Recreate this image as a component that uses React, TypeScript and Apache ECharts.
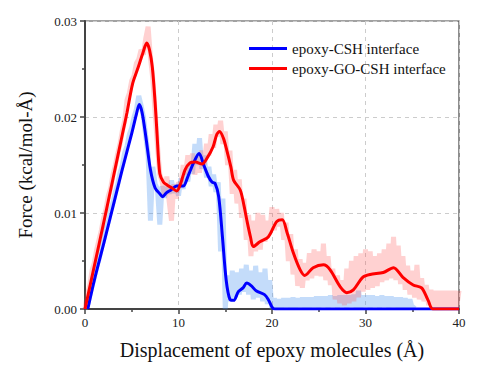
import React, { useEffect, useRef } from "react";
import * as echarts from "echarts";

const FONT = "Liberation Serif";

const seriesNames = ["epoxy-CSH interface", "epoxy-GO-CSH interface"];
const xTicks = [0, 10, 20, 30, 40];
const yTicks = [0, 0.01, 0.02, 0.03];

// raw (light) data sampled every 0.25 Å
const rawStep = 0.25;
const rawBlue = [
  0, 0.0003, 0.0014, 0.0024, 0.0033, 0.0044, 0.0052, 0.0063,
  0.0072, 0.0083, 0.0091, 0.0103, 0.0111, 0.0122, 0.013, 0.0142,
  0.015, 0.0163, 0.017, 0.0182, 0.0189, 0.02, 0.0208, 0.0222,
  0.0212, 0.02, 0.018, 0.016, 0.0092, 0.0148, 0.013, 0.0125,
  0.0088, 0.0128, 0.0116, 0.0127, 0.012, 0.0134, 0.0121, 0.013,
  0.0118, 0.0136, 0.0125, 0.0142, 0.0133, 0.0152, 0.0141, 0.0172,
  0.015, 0.0178, 0.0146, 0.016, 0.0137, 0.0148, 0.0128, 0.014,
  0.0122, 0.0132, 0.006, 0.0115, 0.0, 0.0035, 0.0008, 0.004,
  0.0012, 0.0038, 0.0015, 0.0042, 0.0018, 0.0046, 0.0015, 0.004,
  0.001, 0.0045, 0.0012, 0.0038, 0.0008, 0.0042, 0.0005, 0.003,
  0.0, 0.0011, 0.0001, 0.001, 0.0001, 0.0011, 0.0002, 0.0011,
  0.0001, 0.0012, 0.0001, 0.0011, 0.0002, 0.0012, 0.0001, 0.0012,
  0.0001, 0.0012, 0.0002, 0.0013, 0.0001, 0.0013, 0.0002, 0.0013,
  0.0001, 0.0014, 0.0002, 0.0013, 0.0001, 0.0014, 0.0002, 0.0014,
  0.0001, 0.0014, 0.0002, 0.0015, 0.0001, 0.0019, 0.0001, 0.0014,
  0.0002, 0.0014, 0.0001, 0.0014, 0.0002, 0.0013, 0.0001, 0.0014,
  0.0002, 0.0013, 0.0001, 0.0013, 0.0002, 0.0012, 0.0001, 0.0012,
  0.0001, 0.0011, 0.0001, 0.001, 0.0001, 0.0004,
];
const rawRed = [
  0, 0.0015, 0.0024, 0.004, 0.0048, 0.0062, 0.0072, 0.0082,
  0.0095, 0.0104, 0.0118, 0.0126, 0.014, 0.015, 0.0162, 0.0172,
  0.0186, 0.0196, 0.0218, 0.0225, 0.0238, 0.0243, 0.0256, 0.026,
  0.027, 0.0265, 0.0282, 0.0294, 0.0262, 0.024, 0.0205, 0.017,
  0.014, 0.0133, 0.0118, 0.0138, 0.0112, 0.0092, 0.013, 0.0115,
  0.0132, 0.0128, 0.015, 0.014, 0.016, 0.0145, 0.0162, 0.014,
  0.0158, 0.0142, 0.0165, 0.015, 0.0172, 0.016, 0.0182, 0.0168,
  0.0192, 0.018, 0.0196, 0.0172, 0.0185, 0.015, 0.0165, 0.012,
  0.0145, 0.011, 0.0135, 0.0095, 0.0115, 0.0072, 0.0098, 0.0055,
  0.0092, 0.006, 0.01, 0.0062, 0.0098, 0.007, 0.0092, 0.0078,
  0.0106, 0.0082, 0.0104, 0.0086, 0.01, 0.0072, 0.009, 0.005,
  0.0078, 0.0036, 0.0062, 0.0024, 0.0052, 0.0022, 0.0048, 0.003,
  0.0058, 0.0032, 0.0062, 0.0035, 0.006, 0.0034, 0.0068, 0.003,
  0.0055, 0.0025, 0.0042, 0.001, 0.0035, 0.0006, 0.003, 0.0004,
  0.0042, 0.0006, 0.005, 0.0008, 0.0055, 0.0012, 0.0058, 0.0018,
  0.0062, 0.002, 0.006, 0.0022, 0.0055, 0.0024, 0.0058, 0.0028,
  0.0062, 0.003, 0.0068, 0.0032, 0.0075, 0.003, 0.0066, 0.0026,
  0.0055, 0.002, 0.0045, 0.0015, 0.004, 0.0012, 0.0046, 0.001,
  0.0032, 0.0008, 0.0025, 0.0004, 0.002, 0.0002, 0.0019, 0.0002,
  0.0019, 0.0002, 0.0019, 0.0002, 0.0019, 0.0002, 0.0019, 0.0002,
  0.0019,
];

// smoothed curves [x, y]
const smoothBlue = [
  [0.3, 0], [1, 0.003], [2, 0.0068], [3, 0.0107], [4, 0.0146], [5, 0.0183],
  [5.5, 0.0203], [5.8, 0.0213], [6.1, 0.0205], [6.5, 0.018], [7, 0.0145],
  [7.5, 0.0126], [8, 0.012], [8.3, 0.0117], [8.7, 0.0121], [9.2, 0.0124],
  [9.8, 0.0128], [10.5, 0.0128], [11, 0.0138], [11.6, 0.0152], [12.2, 0.0162],
  [12.7, 0.015], [13.2, 0.0138], [13.6, 0.0132], [13.9, 0.0131], [14.3, 0.0117],
  [14.7, 0.0075], [15.1, 0.003], [15.5, 0.001], [15.9, 0.0009], [16.4, 0.0018],
  [16.9, 0.0022], [17.3, 0.0027], [17.8, 0.0024], [18.3, 0.0019], [19.2, 0.0015],
  [19.6, 0.001], [20, 0.0002], [20.3, 0], [40, 0],
];
const smoothRed = [
  [0, 0], [1, 0.0045], [2, 0.009], [3, 0.0136], [4, 0.0182], [4.5, 0.0205],
  [5.1, 0.0235], [5.7, 0.0252], [6.2, 0.0267], [6.6, 0.0277], [6.9, 0.027],
  [7.2, 0.0252], [7.5, 0.0215], [7.7, 0.0183], [8, 0.0141], [8.4, 0.0132],
  [8.8, 0.0129], [9.3, 0.0126], [9.8, 0.0123], [10.2, 0.013], [10.7, 0.0145],
  [11.2, 0.0152], [11.8, 0.0153], [12.5, 0.0151], [13.1, 0.0158], [13.7, 0.0169],
  [14.1, 0.0182], [14.4, 0.0185], [14.8, 0.0178], [15.2, 0.0164], [15.6, 0.0148],
  [15.9, 0.0134], [16.6, 0.0124], [17, 0.0108], [17.3, 0.0093], [17.7, 0.0075],
  [18, 0.0065], [18.7, 0.007], [19.6, 0.0075], [20.5, 0.0091], [21.1, 0.0093],
  [21.6, 0.008], [22.3, 0.0058], [23, 0.0041], [23.5, 0.0035], [24.4, 0.0043],
  [25.5, 0.0046], [26.2, 0.0041], [27.3, 0.0023], [28, 0.0017], [28.7, 0.002],
  [29.7, 0.0033], [30.5, 0.0036], [31.9, 0.0038], [33, 0.0043], [34, 0.0033],
  [35.1, 0.0025], [36, 0.0022], [36.7, 0.0009], [37.2, 0], [40, 0],
];

export default function App() {
  const ref = useRef<HTMLDivElement>(null);
  useEffect(() => {
    if (!ref.current) return;
    const chart = echarts.init(ref.current, null, { renderer: "svg" });
    const axisText = { color: "#222", fontFamily: FONT, fontSize: 13 };
    chart.setOption({
      animation: false,
      backgroundColor: "#fff",
      textStyle: { fontFamily: FONT },
      grid: {
        left: 85, right: 30, top: 21, bottom: 66,
        show: true, borderColor: "#444", borderWidth: 1.2, backgroundColor: "transparent",
      },
      legend: {
        data: seriesNames,
        orient: "vertical",
        left: 249,
        top: 41,
        padding: 0,
        icon: "rect",
        itemWidth: 38,
        itemHeight: 3,
        itemGap: 5,
        textStyle: { fontFamily: FONT, fontSize: 15, color: "#111", lineHeight: 15 },
      },
      xAxis: {
        type: "value",
        min: xTicks[0],
        max: xTicks[xTicks.length - 1],
        interval: 10,
        name: "Displacement of epoxy molecules (Å)",
        nameLocation: "middle",
        nameGap: 31,
        nameTextStyle: { fontFamily: FONT, fontSize: 20, color: "#111" },
        axisLine: { lineStyle: { color: "#444", width: 2 } },
        axisTick: { inside: false, length: 5, lineStyle: { color: "#444", width: 1.5 } },
        minorTick: { show: true, splitNumber: 2, length: 3, lineStyle: { color: "#444", width: 1.5 } },
        axisLabel: { ...axisText, margin: 7 },
        splitLine: { show: true, lineStyle: { color: "#ccc", type: [4, 4], width: 1 } },
      },
      yAxis: {
        type: "value",
        min: yTicks[0],
        max: yTicks[yTicks.length - 1],
        interval: 0.01,
        name: "Force (kcal/mol-Å)",
        nameLocation: "middle",
        nameGap: 50,
        nameTextStyle: { fontFamily: FONT, fontSize: 19, color: "#111" },
        axisLine: { show: true, lineStyle: { color: "#444", width: 2 } },
        axisTick: { show: true, inside: false, length: 5, lineStyle: { color: "#444", width: 1.5 } },
        minorTick: { show: true, splitNumber: 2, length: 3, lineStyle: { color: "#444", width: 1.5 } },
        axisLabel: { ...axisText, margin: 8, formatter: (v: number) => v.toFixed(2) },
        splitLine: { show: true, lineStyle: { color: "#ccc", type: [4, 4], width: 1 } },
      },
      series: [
        {
          name: "raw-blue",
          type: "line",
          data: rawBlue.map((v, i) => [i * rawStep, v]),
          showSymbol: false,
          lineStyle: { color: "rgba(70,145,240,0.32)", width: 5 },
          z: 1,
        },
        {
          name: "raw-red",
          type: "line",
          data: rawRed.map((v, i) => [i * rawStep, v]),
          showSymbol: false,
          lineStyle: { color: "rgba(255,70,70,0.25)", width: 5 },
          z: 1,
        },
        {
          name: seriesNames[0],
          type: "line",
          data: smoothBlue,
          showSymbol: false,
          smooth: 0.3,
          color: "#0000ff",
          lineStyle: { color: "#0000ff", width: 3 },
          z: 3,
        },
        {
          name: seriesNames[1],
          type: "line",
          data: smoothRed,
          showSymbol: false,
          smooth: 0.3,
          color: "#ff0000",
          lineStyle: { color: "#ff0000", width: 3 },
          z: 4,
        },
      ],
    });
    return () => chart.dispose();
  }, []);
  return (
    <div
      ref={ref}
      style={{ position: "absolute", left: 0, top: 0, width: 489, height: 375, background: "#fff" }}
    />
  );
}
